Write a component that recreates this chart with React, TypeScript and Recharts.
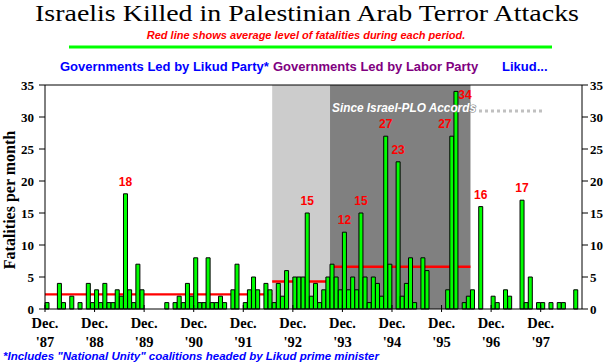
import { Bar, ComposedChart, LabelList, Line, ReferenceArea, ReferenceLine, XAxis, YAxis } from "recharts";

// monthly fatalities, Dec 1987 .. Sep 1998
const fatalities = [
  1, 0, 0, 4, 1, 0, 2, 0, 1, 0, 4, 1,
  3, 1, 4, 1, 1, 3, 2, 18, 3, 1, 7, 3,
  0, 0, 0, 0, 0, 1, 0, 1, 2, 1, 4, 2,
  8, 1, 1, 8, 1, 1, 2, 1, 0, 3, 7, 0,
  1, 3, 5, 3, 0, 4, 3, 1, 4, 2, 6, 0,
  5, 5, 5, 15, 2, 4, 1, 3, 5, 7, 5, 3,
  12, 3, 5, 3, 15, 5, 1, 5, 4, 2, 27, 7,
  0, 23, 2, 4, 8, 1, 0, 8, 6, 0, 0, 0,
  0, 3, 27, 34, 0, 1, 2, 3, 0, 16, 0, 0,
  2, 1, 0, 3, 2, 0, 0, 17, 1, 5, 0, 1,
  1, 0, 1, 0, 1, 1, 0, 0, 3, 0,
];

const monthNames = ["Jan", "Feb", "Mar", "Apr", "May", "Jun", "Jul", "Aug", "Sep", "Oct", "Nov", "Dec"];
const months = fatalities.map((_, i) => {
  const m = (11 + i) % 12;
  const y = 1987 + Math.floor((11 + i) / 12);
  return `${monthNames[m]} ${y}`;
});

const yearLabels = ["'87", "'88", "'89", "'90", "'91", "'92", "'93", "'94", "'95", "'96", "'97"];
const yearTicks = yearLabels.map((_, k) => months[k * 12]);

// government periods: first / last month index and average fatalities
const periodFrom = [0, 55, 69, 103];
const periodTo = [54, 68, 102, 129];
const periodAvg = [2.3, 4.3, 6.6, 2.3];

const yTicks = [0, 5, 10, 15, 20, 25, 30, 35];

const data = months.map((month, i) => ({ month, value: fatalities[i] }));

const SERIF = "'Liberation Serif', 'Times New Roman', serif";
const SANS = "'Liberation Sans', Arial, sans-serif";

function YearTick(props: any) {
  const { x, y, payload } = props;
  const x0 = x - (payload?.offset ?? 537 / 260);
  const k = yearTicks.indexOf(payload.value);
  return (
    <g>
      <line x1={x0} x2={x0} y1={y - 4} y2={y + 3} stroke="#000" />
      <text x={x0} y={y + 19} textAnchor="middle" fontFamily={SERIF} fontWeight="bold" fontSize={14.5} fill="#000">
        Dec.
      </text>
      <text x={x0} y={y + 38} textAnchor="middle" fontFamily={SERIF} fontWeight="bold" fontSize={14.5} fill="#000">
        {yearLabels[k]}
      </text>
    </g>
  );
}

function PeakLabel(props: any) {
  const { x, y, width, value } = props;
  if (value < 12) return null;
  let tx = x + width / 2;
  let ty = y - 8;
  // the two tallest bars of 1995 carry their labels to the side
  if (value === 34) {
    tx += 9;
    ty = y + 8;
  } else if (value === 27 && x > 420) {
    tx -= 7;
  }
  return (
    <text x={tx} y={ty} textAnchor="middle" fill="#ff0000" fontFamily={SANS} fontWeight="bold" fontSize={12}>
      {value}
    </text>
  );
}

export default function App() {
  return (
    <div style={{ position: "absolute", left: 0, top: 0, width: 604, height: 363, background: "#fff" }}>
      <ComposedChart
        width={604}
        height={363}
        data={data}
        margin={{ top: 85, right: 0, bottom: 0, left: 0 }}
        barCategoryGap={0}
      >
        <XAxis
          dataKey="month"
          ticks={yearTicks}
          interval={0}
          height={54}
          tickSize={0}
          tickMargin={0}
          tickLine={false}
          axisLine={{ stroke: "#000" }}
          tick={<YearTick />}
        />
        <YAxis
          yAxisId="left"
          width={45}
          domain={[0, 35]}
          ticks={yTicks}
          tickSize={6}
          tickMargin={5}
          axisLine={{ stroke: "#000" }}
          tickLine={{ stroke: "#000" }}
          tick={{ fill: "#000", fontFamily: SERIF, fontWeight: "bold", fontSize: 13 }}
        />
        <YAxis
          yAxisId="right"
          orientation="right"
          width={22}
          domain={[0, 35]}
          ticks={yTicks}
          tickSize={6}
          tickMargin={2}
          axisLine={{ stroke: "#000" }}
          tickLine={{ stroke: "#000" }}
          tick={{ fill: "#000", fontFamily: SERIF, fontWeight: "bold", fontSize: 13 }}
        />
        <ReferenceArea
          yAxisId="left"
          x1={months[periodFrom[1]]}
          x2={months[periodTo[1]]}
          y1={0}
          y2={35}
          fill="#cccccc"
          fillOpacity={1}
          stroke="none"
        />
        <ReferenceArea
          yAxisId="left"
          x1={months[periodFrom[2]]}
          x2={months[periodTo[2]]}
          y1={0}
          y2={35}
          fill="#808080"
          fillOpacity={1}
          stroke="none"
        />
        <Bar yAxisId="left" dataKey="value" fill="#00ff00" stroke="#000" strokeWidth={1} isAnimationActive={false}>
          <LabelList dataKey="value" content={<PeakLabel />} />
        </Bar>
        {/* invisible twin so the right-hand scale is drawn */}
        <Line
          yAxisId="right"
          dataKey="value"
          stroke="none"
          dot={false}
          activeDot={false}
          legendType="none"
          isAnimationActive={false}
        />
        {periodAvg.map((avg, p) => (
          <ReferenceArea
            key={p}
            yAxisId="left"
            x1={months[periodFrom[p]]}
            x2={months[periodTo[p]]}
            y1={avg - 0.18}
            y2={avg + 0.18}
            fill="#ff0000"
            fillOpacity={1}
            stroke="none"
          />
        ))}
        <ReferenceLine yAxisId="left" y={35} stroke="#000" />
      </ComposedChart>
      <svg
        width={604}
        height={363}
        style={{ position: "absolute", left: 0, top: 0, pointerEvents: "none" }}
      >
        <text
          x={307}
          y={20.5}
          textAnchor="middle"
          fontFamily={SERIF}
          fontSize={23}
          textLength={544}
          lengthAdjust="spacingAndGlyphs"
          fill="#000"
        >
          Israelis Killed in Palestinian Arab Terror Attacks
        </text>
        <text x={306} y={38.5} textAnchor="middle" fontFamily={SANS} fontStyle="italic" fontWeight="bold" fontSize={11} fill="#ff0000">
          Red line shows average level of fatalities during each period.
        </text>
        <line x1={69} x2={552} y1={47} y2={47} stroke="#00ff00" strokeWidth={3} />
        <text x={60} y={71} fontFamily={SANS} fontWeight="bold" fontSize={13} fill="#0000ff">
          Governments Led by Likud Party*
        </text>
        <text x={273} y={71} fontFamily={SANS} fontWeight="bold" fontSize={13} fill="#800080">
          Governments Led by Labor Party
        </text>
        <text x={502} y={71} fontFamily={SANS} fontWeight="bold" fontSize={13} fill="#0000ff">
          Likud...
        </text>
        <text
          x={332}
          y={112}
          fontFamily={SANS}
          fontStyle="italic"
          fontWeight="bold"
          fontSize={12}
          textLength={144}
          lengthAdjust="spacingAndGlyphs"
          fill="#ffffff"
          stroke="#808080"
          strokeWidth={1.2}
          paintOrder="stroke"
        >
          Since Israel-PLO Accords
        </text>
        <line x1={479} x2={542} y1={111} y2={111} stroke="#c0c0c0" strokeWidth={3} strokeDasharray="3 3" />
        <text
          x={15}
          y={200}
          textAnchor="middle"
          transform="rotate(-90 15 200)"
          fontFamily={SERIF}
          fontWeight="bold"
          fontSize={16}
          fill="#000"
        >
          Fatalities per month
        </text>
        <text
          x={3}
          y={360}
          fontFamily={SANS}
          fontStyle="italic"
          fontWeight="bold"
          fontSize={10.5}
          textLength={376}
          lengthAdjust="spacingAndGlyphs"
          fill="#0000ff"
        >
          *Includes "National Unity" coalitions headed by Likud prime minister
        </text>
      </svg>
    </div>
  );
}
